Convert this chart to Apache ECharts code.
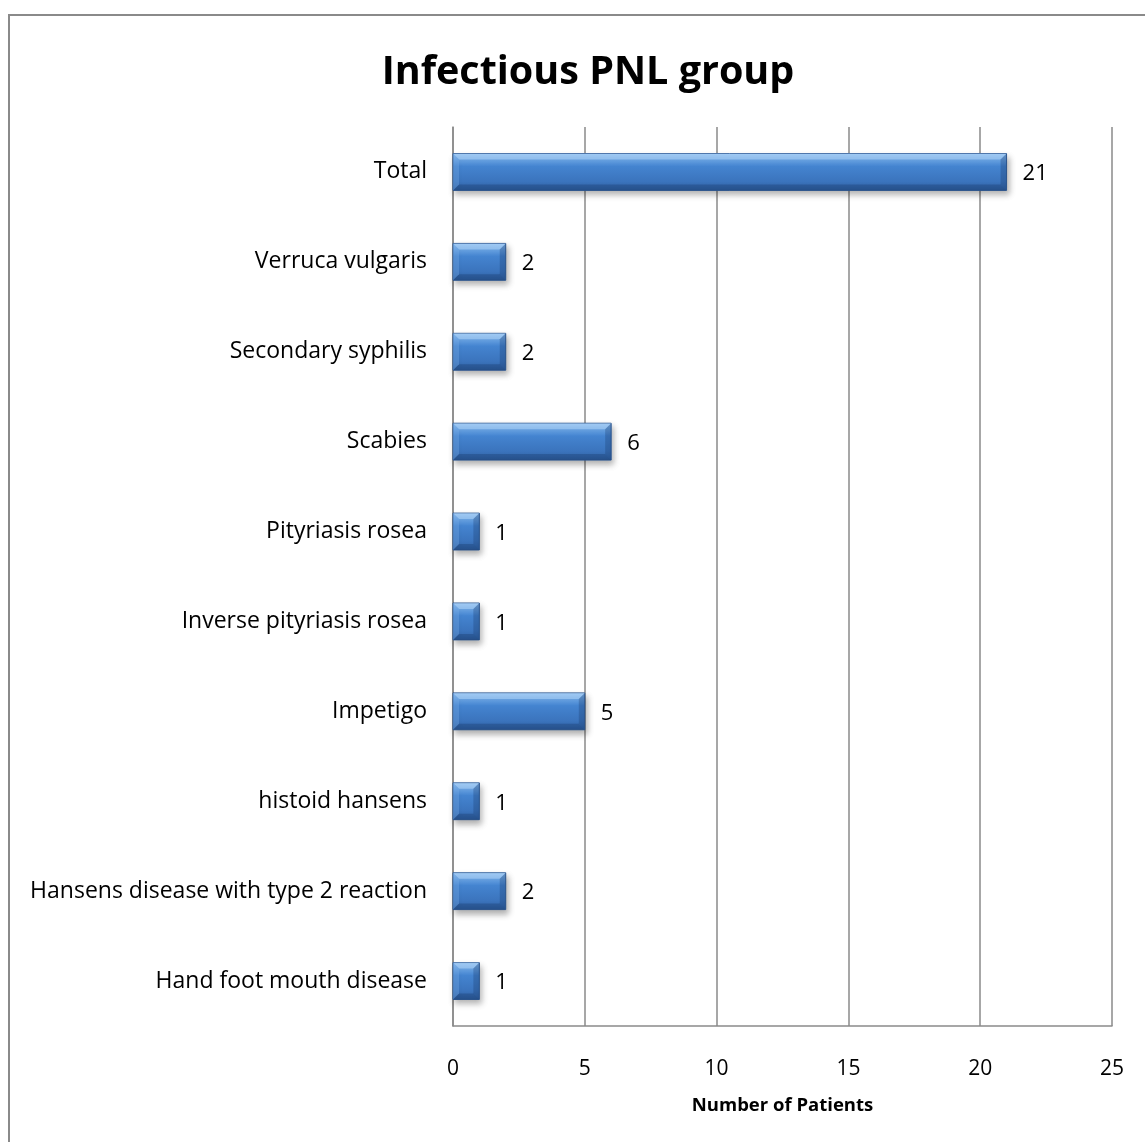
<!DOCTYPE html>
<html>
<head>
<meta charset="utf-8">
<title>Infectious PNL group</title>
<script src="https://cdn.jsdelivr.net/npm/echarts@6/dist/echarts.min.js"></script>
<style>
  html, body { margin: 0; padding: 0; background: #ffffff; }
  #chart { width: 1145px; height: 1142px; }
</style>
</head>
<body>
<div id="chart"></div>
<script>
// Diagnoses, listed bottom-to-top as they appear on the category axis
const categories = [
  'Hand foot mouth disease',
  'Hansens disease with type 2 reaction',
  'histoid hansens',
  'Impetigo',
  'Inverse pityriasis rosea',
  'Pityriasis rosea',
  'Scabies',
  'Secondary syphilis',
  'Verruca vulgaris',
  'Total'
];

// Number of patients per diagnosis
const patients = [1, 2, 1, 5, 1, 1, 6, 2, 2, 21];

// Value axis ticks
const xTicks = { min: 0, max: 25, interval: 5 };

const FONT = '"Open Sans", "Noto Sans", "Liberation Sans", sans-serif';

// Bevelled 3D-style bar drawn from the data value through the axis scales
function renderBevelBar(params, api) {
  const cat = api.value(0);
  const val = api.value(1);
  const start = api.coord([0, cat]);
  const end = api.coord([val, cat]);
  const band = api.size([0, 1])[1];
  const h = band * 0.41;
  const x0 = start[0], x1 = end[0];
  const y0 = start[1] - h / 2, y1 = start[1] + h / 2;
  const b = Math.min(6, (x1 - x0) / 3);

  const body = {
    type: 'linear', x: 0, y: 0, x2: 0, y2: 1,
    colorStops: [
      { offset: 0, color: '#8fc0f2' },
      { offset: 0.18, color: '#6aa5e6' },
      { offset: 0.35, color: '#4484d0' },
      { offset: 0.75, color: '#3b74bd' },
      { offset: 1, color: '#2f5f9f' }
    ]
  };

  return {
    type: 'group',
    children: [
      {
        type: 'rect',
        shape: { x: x0, y: y0, width: x1 - x0, height: h },
        style: {
          fill: body,
          stroke: '#2f5a94',
          lineWidth: 1,
          shadowColor: 'rgba(0,0,0,0.3)',
          shadowBlur: 6,
          shadowOffsetX: 2,
          shadowOffsetY: 4
        }
      },
      // top bevel
      {
        type: 'polygon',
        shape: { points: [[x0, y0], [x1, y0], [x1 - b, y0 + b], [x0 + b, y0 + b]] },
        style: { fill: 'rgba(190,225,255,0.45)' },
        silent: true
      },
      // bottom bevel
      {
        type: 'polygon',
        shape: { points: [[x0, y1], [x1, y1], [x1 - b, y1 - b], [x0 + b, y1 - b]] },
        style: { fill: 'rgba(20,50,95,0.3)' },
        silent: true
      },
      // left bevel
      {
        type: 'polygon',
        shape: { points: [[x0, y0], [x0 + b, y0 + b], [x0 + b, y1 - b], [x0, y1]] },
        style: { fill: 'rgba(120,175,235,0.35)' },
        silent: true
      },
      // right bevel
      {
        type: 'polygon',
        shape: { points: [[x1, y0], [x1 - b, y0 + b], [x1 - b, y1 - b], [x1, y1]] },
        style: { fill: 'rgba(25,60,110,0.3)' },
        silent: true
      },
      // value label
      {
        type: 'text',
        x: x1 + 16,
        y: start[1] + 2,
        style: {
          text: String(val),
          fill: '#000000',
          font: '22px ' + FONT,
          verticalAlign: 'middle',
          align: 'left'
        }
      }
    ]
  };
}

const chart = echarts.init(document.getElementById('chart'), null, { renderer: 'canvas' });

chart.setOption({
  backgroundColor: '#ffffff',
  animation: false,
  title: {
    text: 'Infectious PNL group',
    left: 583,
    textAlign: 'center',
    top: 48,
    textStyle: { fontFamily: FONT, fontWeight: 'bold', fontSize: 39.5, color: '#000000' }
  },
  graphic: [
    {
      type: 'rect',
      shape: { x: 9, y: 15, width: 1160, height: 1160 },
      style: { fill: 'none', stroke: '#8a8a8a', lineWidth: 2 },
      z: -1
    }
  ],
  grid: { left: 453, top: 127, width: 659, height: 899, containLabel: false },
  xAxis: {
    type: 'value',
    min: xTicks.min,
    max: xTicks.max,
    interval: xTicks.interval,
    axisLine: { show: true, lineStyle: { color: '#8a8a8a', width: 1.5 } },
    axisTick: { show: false },
    splitLine: { show: true, lineStyle: { color: '#8a8a8a', width: 1.5 } },
    axisLabel: { color: '#000000', fontFamily: FONT, fontSize: 21, margin: 33 },
    name: 'Number of Patients',
    nameLocation: 'middle',
    nameGap: 70,
    nameTextStyle: { color: '#000000', fontFamily: FONT, fontSize: 18.5, fontWeight: 'bold' }
  },
  yAxis: {
    type: 'category',
    data: categories,
    axisLine: { show: true, lineStyle: { color: '#8a8a8a', width: 1.5 } },
    axisTick: { show: false },
    splitLine: { show: false },
    axisLabel: { color: '#000000', fontFamily: FONT, fontSize: 23, margin: 26, padding: [7, 0, 0, 0] }
  },
  series: [
    {
      type: 'custom',
      renderItem: renderBevelBar,
      encode: { x: 1, y: 0 },
      data: patients.map((v, i) => [i, v]),
      clip: false
    }
  ]
});
</script>
</body>
</html>
